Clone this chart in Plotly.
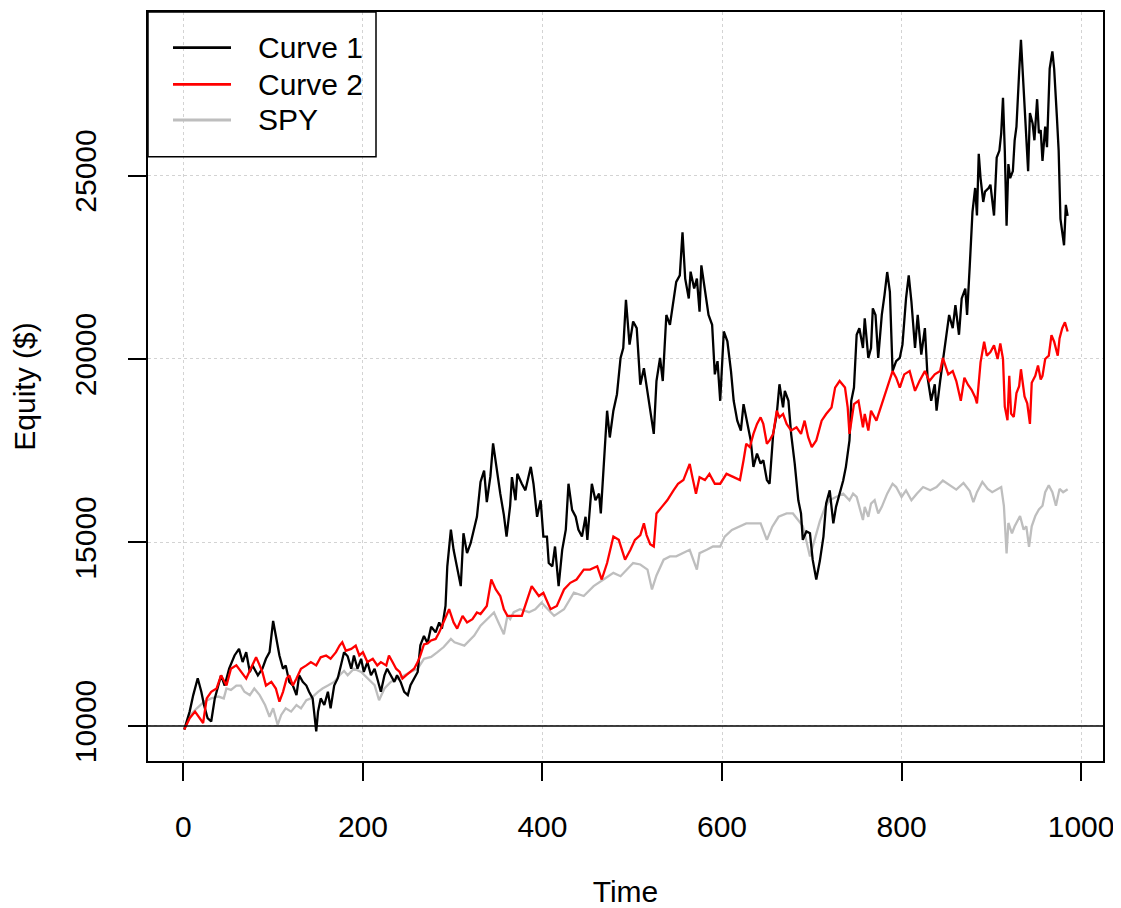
import plotly.graph_objects as go

# ---------------- data ----------------
t_curve1 = [1, 7, 11, 16, 20, 23, 27, 31, 35, 39, 42, 46, 51, 57, 62, 66, 70, 74, 77, 83,
            88, 92, 96, 100, 103, 107, 111, 114, 118, 122, 126, 129, 133, 137, 140, 144, 148, 150, 153, 157,
            161, 164, 168, 172, 176, 179, 183, 187, 190, 194, 198, 201, 205, 209, 213, 216, 220, 224, 227, 231,
            235, 238, 242, 246, 250, 253, 257, 261, 264, 268, 272, 276, 281, 285, 288, 292, 294, 298, 301, 305,
            309, 312, 316, 320, 324, 327, 331, 335, 338, 342, 345, 350, 353, 357, 360, 364, 366, 370, 372, 377,
            381, 387, 390, 394, 398, 401, 405, 407, 411, 414, 418, 422, 426, 429, 433, 437, 440, 444, 448, 450,
            455, 459, 463, 465, 468, 472, 475, 479, 483, 487, 490, 493, 497, 501, 505, 509, 513, 517, 520, 524,
            527, 531, 534, 538, 542, 545, 549, 553, 556, 559, 563, 565, 569, 572, 575, 577, 581, 585, 589, 592,
            595, 598, 602, 606, 610, 613, 617, 621, 624, 628, 632, 635, 639, 643, 646, 650, 653, 657, 661, 664,
            668, 670, 674, 677, 681, 685, 688, 690, 694, 698, 701, 705, 709, 713, 716, 720, 724, 727, 731, 735,
            738, 742, 744, 747, 750, 753, 757, 759, 763, 766, 768, 771, 774, 778, 781, 784, 787, 790, 794, 798,
            801, 805, 808, 811, 815, 818, 822, 826, 829, 833, 837, 839, 843, 846, 850, 853, 857, 860, 864, 867,
            871, 873, 876, 879, 882, 884, 886, 888, 891, 893, 897, 899, 903, 906, 909, 911, 913, 915, 917, 919,
            921, 924, 926, 928, 931, 933, 936, 938, 941, 943, 946, 948, 951, 953, 955, 957, 960, 962, 965, 968,
            970, 973, 975, 977, 979, 981, 983, 985]
v_curve1 = [9900, 10390, 10840, 11300, 10930, 10570, 10210, 10120, 10750, 11100, 11380, 11100, 11560, 11920, 12100, 11740, 12010, 11470, 11650, 11380,
            11560, 11830, 12010, 12860, 12460, 11920, 11560, 11650, 11200, 11100, 10840, 11380, 11200, 11100, 10930, 10750, 9850, 10390, 10750, 10570,
            10930, 10480, 11100, 11300, 11700, 12010, 11900, 11560, 11920, 11560, 11830, 11470, 11740, 11380, 11560, 11290, 10930, 11380, 11560, 11380,
            11200, 11380, 11200, 10930, 10840, 11110, 11290, 11470, 12200, 12450, 12250, 12700, 12550, 12820, 12650, 13270, 14350, 15350, 14800, 14270,
            13810, 15250, 14710, 14980, 15430, 15700, 16650, 16960, 16100, 16800, 17700, 16750, 16330, 15750, 15160, 16000, 16780, 16150, 16870, 16600,
            16420, 17060, 16600, 15700, 16150, 15160, 15160, 14440, 14350, 14890, 13810, 14800, 15350, 16600, 15890, 15700, 15350, 15160, 15700, 15070,
            16600, 16150, 16330, 15790, 17140, 18590, 17860, 18590, 19040, 20030, 20300, 21610, 20390, 21020, 20840, 19300, 19750, 19130, 18590, 17960,
            19400, 20030, 19400, 21200, 20930, 21380, 22100, 22280, 23450, 22190, 21650, 22380, 21920, 22190, 21290, 22550, 21920, 21200, 20930, 19580,
            19940, 18860, 20750, 20480, 19670, 18860, 18320, 18050, 18770, 18320, 17780, 17060, 17420, 17150, 17240, 16700, 16600, 17960, 18500, 19310,
            18680, 19130, 18860, 17960, 17150, 16150, 15790, 15070, 15300, 15250, 14530, 13990, 14500, 15160, 16060, 16420, 15520, 15970, 16330, 16690,
            17060, 17780, 18860, 19220, 20660, 20840, 20300, 21110, 20030, 20300, 21380, 21200, 20030, 21200, 21740, 22370, 21830, 19670, 19940, 20030,
            20390, 21650, 22280, 21560, 20300, 21200, 20120, 20840, 19490, 18860, 19310, 18590, 19400, 19940, 20750, 21200, 20840, 21470, 20660, 21650,
            21920, 21200, 22550, 24000, 24660, 23910, 25590, 24930, 24280, 24560, 24660, 24750, 23910, 25490, 25680, 26150, 27120, 25680, 23630, 25310,
            24930, 25120, 25960, 26330, 27820, 28700, 27360, 26520, 25120, 26700, 26420, 25960, 27080, 26150, 26240, 25400, 26330, 25770, 27910, 28380,
            27910, 26610, 25680, 23820, 23450, 23100, 24200, 23900]

t_curve2 = [1, 7, 13, 18, 22, 26, 31, 37, 42, 48, 53, 59, 64, 70, 75, 81, 85, 88, 92, 98,
            103, 107, 111, 115, 118, 122, 126, 131, 137, 142, 148, 153, 159, 164, 170, 174, 177, 181, 187, 192,
            196, 200, 205, 211, 216, 220, 226, 229, 233, 237, 241, 244, 248, 253, 257, 261, 264, 268, 272, 276,
            281, 285, 290, 296, 301, 305, 311, 316, 322, 327, 331, 335, 338, 343, 348, 353, 357, 361, 366, 377,
            388, 396, 401, 409, 416, 424, 431, 438, 446, 453, 461, 466, 472, 479, 485, 492, 498, 503, 509, 513,
            516, 520, 524, 527, 533, 539, 546, 551, 557, 564, 567, 571, 575, 581, 586, 592, 598, 605, 613, 620,
            624, 627, 631, 635, 639, 643, 646, 650, 653, 657, 661, 664, 668, 672, 677, 683, 688, 692, 696, 700,
            705, 711, 716, 722, 726, 731, 737, 740, 742, 747, 752, 757, 759, 763, 766, 772, 778, 784, 790, 794,
            798, 803, 809, 815, 820, 826, 831, 837, 843, 846, 852, 857, 861, 866, 870, 874, 878, 882, 884, 888,
            892, 895, 899, 903, 907, 910, 913, 915, 918, 920, 922, 925, 928, 931, 933, 937, 940, 943, 945, 949,
            952, 955, 957, 960, 964, 967, 970, 974, 976, 979, 982, 985]
v_curve2 = [9900, 10210, 10390, 10210, 10080, 10750, 10930, 11020, 11380, 11100, 11560, 11650, 11470, 11290, 11560, 11870, 11650, 11470, 11100, 11200,
            11020, 10660, 10930, 11290, 11380, 11100, 11290, 11560, 11650, 11740, 11650, 11870, 11920, 11830, 12010, 12190, 12280, 12050, 12100, 12190,
            11920, 12010, 11740, 11830, 11650, 11740, 11650, 11920, 11740, 11560, 11470, 11290, 11380, 11470, 11560, 11740, 11920, 12220, 12250, 12330,
            12370, 12550, 12820, 13180, 12820, 12650, 13000, 12820, 12910, 13090, 13050, 13180, 13270, 13990, 13720, 13540, 13180, 13000, 13000, 13000,
            13810, 13540, 13630, 13180, 13270, 13720, 13900, 13990, 14260, 14260, 14350, 13990, 14440, 15160, 15070, 14530, 14800, 15070, 15200, 15520,
            15200, 14950, 14890, 15790, 15970, 16150, 16420, 16600, 16700, 17140, 16780, 16330, 16780, 16700, 16870, 16600, 16600, 16870, 16780, 16700,
            17240, 17690, 17600, 17960, 18230, 18410, 18230, 17690, 17780, 17960, 18590, 18410, 18500, 18230, 18050, 18140, 17960, 18320, 17870, 17600,
            17780, 18320, 18500, 18680, 19220, 19400, 19220, 18680, 17960, 18770, 18860, 18140, 18500, 18050, 18590, 18320, 18770, 19220, 19670, 19490,
            19220, 19580, 19670, 19130, 19400, 19670, 19400, 19580, 19670, 20030, 19580, 19670, 19400, 18860, 19490, 19300, 19160, 18960, 18790, 19910,
            20470, 20090, 20190, 20370, 20000, 20420, 20000, 18700, 18330, 19540, 18510, 18420, 19070, 19260, 19720, 18980, 18790, 18230, 19350, 19540,
            19820, 19440, 19540, 20000, 20090, 20650, 20470, 20090, 20560, 20840, 21000, 20750]

t_spy = [1, 8, 15, 23, 31, 39, 45, 48, 53, 59, 64, 68, 74, 79, 85, 91, 96, 100, 105, 109,
         114, 120, 126, 131, 137, 142, 150, 155, 161, 168, 174, 179, 183, 190, 198, 205, 213, 218, 224, 231,
         239, 246, 253, 261, 268, 276, 283, 290, 298, 302, 313, 324, 331, 338, 346, 351, 357, 361, 364, 368,
         375, 385, 392, 399, 413, 424, 435, 446, 457, 468, 479, 487, 494, 501, 509, 517, 522, 527, 535, 542,
         549, 557, 564, 572, 575, 583, 590, 598, 603, 611, 620, 627, 635, 643, 650, 656, 663, 672, 679, 685,
         690, 698, 704, 709, 715, 720, 727, 735, 742, 746, 750, 757, 759, 763, 766, 770, 774, 778, 784, 790,
         794, 800, 805, 811, 817, 824, 832, 839, 846, 853, 861, 869, 876, 880, 884, 890, 896, 901, 907, 911,
         914, 917, 919, 923, 926, 932, 936, 939, 942, 945, 949, 953, 957, 960, 964, 968, 972, 976, 980, 985]
v_spy = [9900, 10300, 10480, 10660, 10750, 10800, 10750, 11020, 10980, 11100, 11100, 10930, 10840, 11020, 10840, 10570, 10250, 10480, 10030, 10300,
         10480, 10390, 10570, 10480, 10700, 10750, 10930, 11020, 11100, 11200, 11380, 11500, 11380, 11560, 11470, 11290, 11110, 10700, 11020, 11200,
         11290, 11380, 11470, 11560, 11830, 11880, 12010, 12150, 12370, 12280, 12190, 12460, 12730, 12910, 13090, 12820, 12500, 13000, 12910, 13100,
         13180, 13100, 13180, 13360, 13000, 13180, 13630, 13540, 13810, 13990, 14170, 14080, 14260, 14440, 14400, 14260, 13720, 14100, 14530, 14620,
         14620, 14710, 14800, 14260, 14710, 14800, 14890, 14890, 15160, 15340, 15430, 15520, 15520, 15520, 15070, 15430, 15700, 15790, 15790, 15610,
         15450, 14620, 15120, 15580, 15970, 16150, 16240, 16330, 16150, 16330, 16240, 15610, 15970, 15700, 16060, 16150, 15790, 15970, 16330, 16600,
         16510, 16240, 16420, 16150, 16330, 16510, 16420, 16510, 16690, 16580, 16440, 16620, 16400, 16100, 16370, 16650, 16460, 16370, 16460, 16510,
         16000, 14700, 15530, 15250, 15440, 15720, 15350, 15440, 14880, 15440, 15720, 15900, 16000, 16370, 16560, 16370, 16000, 16460, 16370, 16450]

x_ticks = [0, 200, 400, 600, 800, 1000]
y_ticks = [10000, 15000, 20000, 25000]
baseline = 10000
series_names = ["Curve 1", "Curve 2", "SPY"]
series_colors = ["#000000", "#ff0000", "#bebebe"]

# ---------------- figure ----------------
FONT = "Liberation Sans, Arial, Helvetica, sans-serif"
FS = 30
# the page body adds an 8px offset; the figure is sized so the plot lands where the reference has it
W, H = 1113, 900
ML, MR, MT, MB = 140, 18, 2, 142
PW, PH = W - ML - MR, H - MT - MB
OFF = 8  # page offset of the figure

fig = go.Figure()
fig.add_trace(go.Scatter(x=t_spy, y=v_spy, mode="lines", name=series_names[2],
                         line=dict(color=series_colors[2], width=2.3), showlegend=False))
fig.add_trace(go.Scatter(x=t_curve1, y=v_curve1, mode="lines", name=series_names[0],
                         line=dict(color=series_colors[0], width=2.3), showlegend=False))
fig.add_trace(go.Scatter(x=t_curve2, y=v_curve2, mode="lines", name=series_names[1],
                         line=dict(color=series_colors[1], width=2.3), showlegend=False))

# horizontal reference line at the starting equity
fig.add_shape(type="line", xref="paper", x0=0, x1=1, yref="y", y0=baseline, y1=baseline,
              line=dict(color="black", width=1.5), layer="above")


# legend box (R-style, inside the plot area, top-left); positions given in page pixels
def px_x(p):
    return (p - OFF - ML) / PW


def px_y(p):
    return (H - MB - (p - OFF)) / PH


fig.add_shape(type="rect", xref="paper", yref="paper",
              x0=px_x(148), x1=px_x(376), y0=px_y(156), y1=px_y(10),
              line=dict(color="black", width=1.5), fillcolor="rgba(0,0,0,0)", layer="above")
row_y = [46, 83, 119]
for name, col, ry in zip(series_names, series_colors, row_y):
    fig.add_shape(type="line", xref="paper", yref="paper",
                  x0=px_x(173), x1=px_x(231), y0=px_y(ry), y1=px_y(ry),
                  line=dict(color=col, width=2.8), layer="above")
    fig.add_annotation(xref="paper", yref="paper", x=px_x(256), y=px_y(ry),
                       text=name, showarrow=False, xanchor="left", yanchor="middle",
                       font=dict(family=FONT, size=FS, color="black"))

axis_common = dict(
    showline=True, mirror=True, linecolor="black", linewidth=1.5,
    ticks="outside", ticklen=18, tickwidth=1.5, tickcolor="black",
    showgrid=True, gridcolor="#d3d3d3", gridwidth=1, griddash="dot",
    zeroline=False, tickfont=dict(family=FONT, size=FS, color="black"),
)

fig.update_layout(
    width=W, height=H,
    margin=dict(l=ML, r=MR, t=MT, b=MB, pad=0),
    paper_bgcolor="white", plot_bgcolor="white",
    font=dict(family=FONT, size=FS, color="black"),
    showlegend=False,
    xaxis=dict(range=[-39.4, 1024.4], tickmode="array", tickvals=x_ticks,
               ticktext=[str(v) for v in x_ticks], ticklabelstandoff=20,
               title=dict(text="Time", standoff=42,
                          font=dict(family=FONT, size=FS, color="black")),
               **axis_common),
    yaxis=dict(range=[9044, 29456], tickmode="array", tickvals=y_ticks,
               ticktext=[str(v) for v in y_ticks], tickangle=-90, ticklabelstandoff=20,
               title=dict(text="Equity ($)", standoff=36,
                          font=dict(family=FONT, size=FS, color="black")),
               **axis_common),
)

fig.write_html("out.html")
